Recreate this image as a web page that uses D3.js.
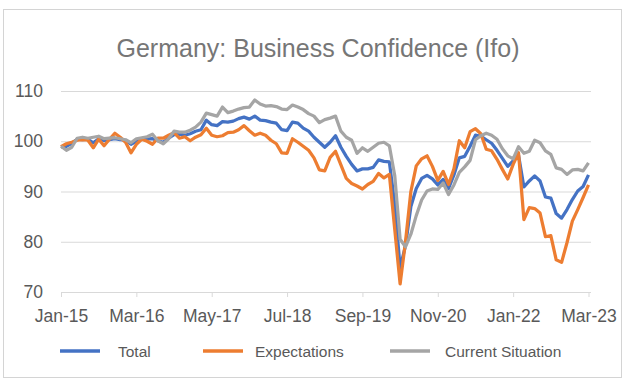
<!DOCTYPE html>
<html>
<head>
<meta charset="utf-8">
<script src="https://cdn.jsdelivr.net/npm/d3@7"></script>
<style>
  body { margin: 0; background: #fff; }
  svg text { font-family: "Liberation Sans", Arial, sans-serif; }
</style>
</head>
<body>
<svg id="chart" width="631" height="388"></svg>
<script>
// categories: monthly, Jan-15 .. Mar-23
const monthNames = ["Jan", "Feb", "Mar", "Apr", "May", "Jun", "Jul", "Aug", "Sep", "Oct", "Nov", "Dec"];
const years = ["15", "16", "17", "18", "19", "20", "21", "22", "23"];
const months = [];
years.forEach(y => monthNames.forEach(m => months.push(m + "-" + y)));
months.length = 99;

const tickLabels = ["Jan-15", "Mar-16", "May-17", "Jul-18", "Sep-19", "Nov-20", "Jan-22", "Mar-23"];
const yTicks = [70, 80, 90, 100, 110];

const total = [
  98.9, 99.0, 99.6, 100.4, 100.3, 100.4, 99.7, 100.5, 100.1, 100.3, 100.5, 100.3,
  100.2, 99.4, 100.0, 100.4, 100.4, 100.5, 100.1, 99.8, 100.6, 101.3, 101.4, 101.2,
  101.5, 102.0, 102.3, 104.2, 103.3, 103.1, 103.9, 103.8, 104.0, 104.5, 104.8, 104.4,
  105.0, 104.2, 104.1, 103.8, 103.6, 102.3, 102.1, 103.8, 103.6, 102.6, 102.0, 100.8,
  99.8, 98.8, 99.8, 101.1, 98.8, 97.0, 95.4, 94.1, 94.5, 94.5, 94.8, 96.3,
  96.0, 95.9, 87.5, 74.8, 79.2, 87.0, 90.6, 92.6, 93.2, 92.5, 91.3, 92.4,
  90.6, 93.3, 96.7, 97.0, 99.0, 101.2, 101.0, 100.3, 99.6, 98.2, 96.6, 95.0,
  96.1, 97.2, 90.9, 92.1, 93.1, 92.1, 88.9, 88.7, 85.6, 84.7, 86.4, 88.4,
  90.1, 91.0, 93.3
];
const expectations = [
  98.9, 99.5, 99.8, 100.2, 100.3, 100.2, 98.7, 100.4, 99.1, 100.4, 101.6, 100.8,
  99.8, 97.7, 99.4, 100.4, 100.0, 99.4, 100.6, 100.6, 101.2, 101.7, 100.6, 100.9,
  100.1, 100.8, 101.3, 102.6, 101.2, 100.9, 101.1, 101.7, 101.8, 102.3, 103.1, 102.1,
  101.2, 101.6, 101.2, 100.2, 99.5, 97.7, 97.6, 100.5, 99.8, 99.0, 98.2, 96.7,
  94.3, 94.1, 96.8, 98.0, 95.3, 92.6, 91.6, 91.1, 90.5, 91.4, 92.0, 93.6,
  92.7, 93.4, 82.5, 71.6, 80.0, 90.0, 95.1, 96.5, 97.1, 95.0, 92.2, 94.0,
  91.4, 94.5, 100.1, 98.7, 101.9, 102.5, 101.5, 98.4, 98.1, 96.4, 94.4, 92.5,
  95.4, 97.7, 84.4, 86.8, 86.6, 85.7, 81.0, 81.2, 76.4, 75.9, 79.8, 84.1,
  86.4, 88.8, 91.3
];
const current = [
  99.0, 98.2, 98.8, 100.6, 100.8, 100.6, 100.8, 101.0, 100.5, 100.6, 100.7, 100.5,
  100.3, 99.7, 100.5, 100.7, 100.9, 101.4, 100.1, 99.5, 100.5, 102.0, 101.8, 101.8,
  102.2, 102.8, 103.8, 105.6, 105.3, 105.0, 106.8, 105.7, 106.0, 106.4, 106.7, 106.8,
  108.2, 107.4, 107.0, 107.1, 106.9, 106.4, 106.3, 107.2, 106.8, 106.3, 105.5, 105.0,
  103.7, 104.3, 104.6, 105.0, 102.0, 100.8, 100.2, 97.6, 98.7, 98.0, 98.8, 99.6,
  99.8, 99.1, 93.2, 80.5, 79.0, 81.5, 85.2, 88.3, 90.1, 90.5, 90.4, 91.7,
  89.4, 91.3, 93.8, 94.9, 96.2, 100.3, 101.1, 101.6, 101.2, 100.4, 98.5, 97.1,
  96.5, 98.9, 97.6, 98.0, 100.2, 99.7, 98.1, 97.4, 94.7, 94.4, 93.4, 94.3,
  94.4, 94.1, 95.7
];

const seriesNames = ["Total", "Expectations", "Current Situation"];
const seriesColors = ["#4472C4", "#ED7D31", "#A5A5A5"];
const seriesData = [total, expectations, current];

const svg = d3.select("#chart");

// outer frame
svg.append("rect")
  .attr("x", 3.5).attr("y", 9.5)
  .attr("width", 618).attr("height", 368)
  .attr("fill", "#fff")
  .attr("stroke", "#D4D4D4");

const plotLeft = 61, plotRight = 588.5, gridRight = 591;
const plotTop = 91, plotBottom = 292;

const x = d3.scalePoint().domain(months).range([plotLeft, plotRight]);
const y = d3.scaleLinear().domain([70, 110]).range([plotBottom, plotTop]);

// title
svg.append("text")
  .attr("x", 318).attr("y", 57)
  .attr("text-anchor", "middle")
  .attr("font-size", "25px")
  .attr("fill", "#767676")
  .text("Germany: Business Confidence (Ifo)");

// gridlines + y labels
const yAxis = d3.axisLeft(y).tickValues(yTicks).tickSize(-(gridRight - plotLeft)).tickPadding(18);
const gy = svg.append("g").attr("transform", "translate(" + plotLeft + ",0)").call(yAxis);
gy.select(".domain").remove();
gy.selectAll(".tick line").attr("stroke", "#D9D9D9").attr("stroke-width", 1);
gy.selectAll(".tick text")
  .attr("font-size", "17.5px")
  .attr("fill", "#595959");

// x axis ticks + labels
const xAxis = d3.axisBottom(x).tickValues(tickLabels).tickSize(5).tickPadding(13);
const gx = svg.append("g").attr("transform", "translate(0," + plotBottom + ")").call(xAxis);
gx.select(".domain").remove();
gx.selectAll(".tick line").attr("stroke", "#D9D9D9");
gx.selectAll(".tick text")
  .attr("font-size", "17.5px")
  .attr("fill", "#595959");

// lines
const line = d3.line()
  .x((d, i) => x(months[i]))
  .y(d => y(d));

seriesData.forEach((s, k) => {
  svg.append("path")
    .datum(s)
    .attr("fill", "none")
    .attr("stroke", seriesColors[k])
    .attr("stroke-width", 3.25)
    .attr("stroke-linejoin", "round")
    .attr("d", line);
});

// legend
const legendX = [60, 203, 390];
const legendTextX = [118, 255, 445];
const legend = svg.append("g");
seriesNames.forEach((name, k) => {
  legend.append("line")
    .attr("x1", legendX[k]).attr("x2", legendX[k] + 40)
    .attr("y1", 351).attr("y2", 351)
    .attr("stroke", seriesColors[k])
    .attr("stroke-width", 3.5);
  legend.append("text")
    .attr("x", legendTextX[k]).attr("y", 356.5)
    .attr("font-size", "15.5px")
    .attr("fill", "#595959")
    .text(name);
});
</script>
</body>
</html>
